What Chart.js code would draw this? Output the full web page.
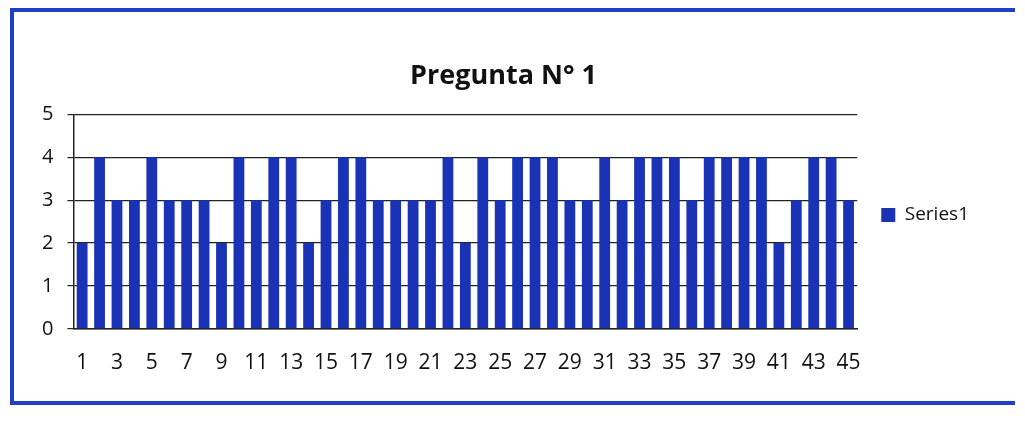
<!DOCTYPE html>
<html lang="es">
<head>
<meta charset="UTF-8">
<title>Pregunta N° 1</title>
<script src="https://cdn.jsdelivr.net/npm/chart.js"></script>
<style>
  html, body { margin: 0; padding: 0; background: #fff; }
  #frame {
    position: absolute; left: 10px; top: 8px; width: 1005px; height: 397px;
    border: 4px solid #1f3fc4; border-right: none; box-sizing: border-box;
  }
  #wrap { position: absolute; left: 14px; top: 12px; width: 1000px; height: 390px; }
</style>
</head>
<body>
<div id="frame"></div>
<div id="wrap"><canvas id="chart"></canvas></div>
<script>
// question numbers 1..45
const labels = ['1','2','3','4','5','6','7','8','9','10','11','12','13','14','15',
  '16','17','18','19','20','21','22','23','24','25','26','27','28','29','30',
  '31','32','33','34','35','36','37','38','39','40','41','42','43','44','45'];
const series1 = [2,4,3,3,4,3,3,3,2,4,3,4,4,2,3,
  4,4,3,3,3,3,4,2,4,3,4,4,4,3,3,
  4,3,4,4,4,3,4,4,4,4,2,3,4,4,3];

const font = "'Open Sans', 'DejaVu Sans', sans-serif";

new Chart(document.getElementById('chart'), {
  type: 'bar',
  data: {
    labels: labels,
    datasets: [{
      label: 'Series1',
      data: series1,
      backgroundColor: '#1a33b6',
      barPercentage: 0.62,
      categoryPercentage: 1.0
    }]
  },
  options: {
    responsive: true,
    maintainAspectRatio: false,
    animation: false,
    layout: { padding: { left: 14, right: 35, top: 20, bottom: 4 } },
    plugins: {
      title: {
        display: true,
        text: 'Pregunta N° 1',
        color: '#111',
        font: { family: font, size: 27, weight: 'bold' },
        padding: { top: 28, bottom: 22 }
      },
      legend: {
        position: 'right',
        labels: {
          boxWidth: 14, boxHeight: 14, padding: 24,
          color: '#111',
          font: { family: font, size: 19 }
        }
      },
      tooltip: { enabled: false }
    },
    scales: {
      x: {
        grid: { display: false, drawTicks: false },
        border: { color: '#222', width: 1.5 },
        ticks: {
          color: '#111', padding: 22,
          maxRotation: 0, autoSkip: true, autoSkipPadding: 6,
          font: { family: font, size: 21 }
        }
      },
      y: {
        min: 0, max: 5,
        grid: { color: '#222', lineWidth: 1.2, drawTicks: true, tickLength: 6 },
        border: { color: '#222', width: 1.5 },
        ticks: {
          stepSize: 1, color: '#111', padding: 14,
          font: { family: font, size: 20 }
        }
      }
    }
  }
});
</script>
</body>
</html>
